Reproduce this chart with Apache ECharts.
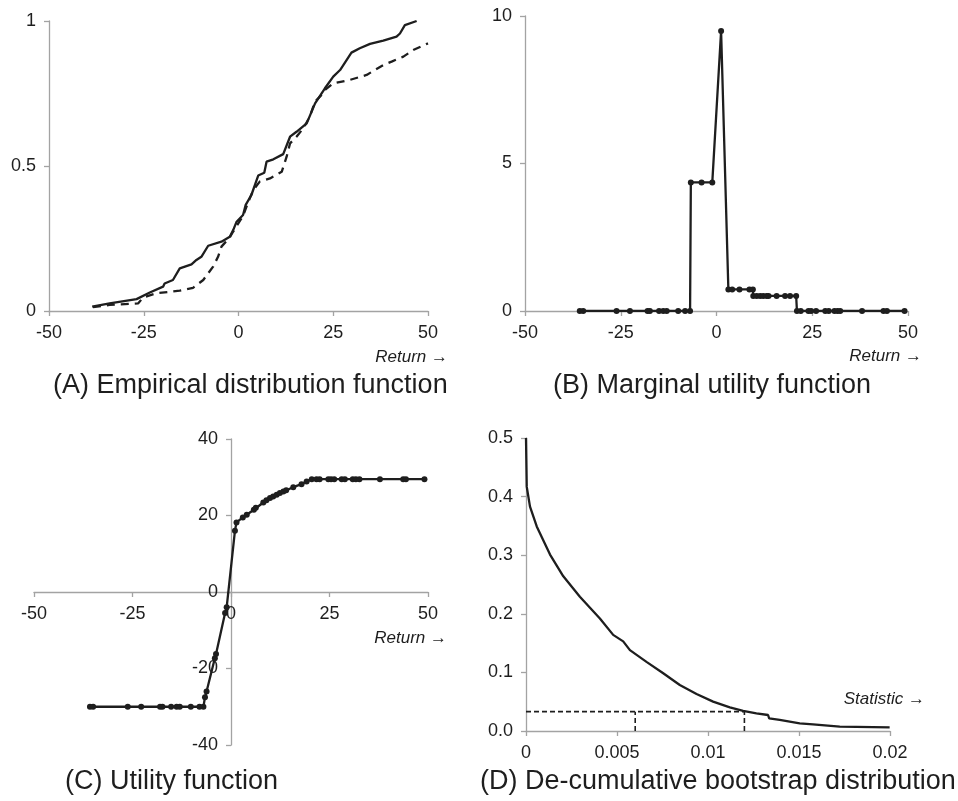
<!DOCTYPE html>
<html lang="en">
<head>
<meta charset="UTF-8">
<title>Utility functions</title>
<style>
  html, body { margin: 0; padding: 0; background: #fff; }
  #chart { width: 958px; height: 801px; }
</style>
</head>
<body>
<div id="chart"></div>
<script src="https://cdn.jsdelivr.net/npm/echarts@6/dist/echarts.min.js"></script>
<script>
// panel A: empirical distribution functions (return, cumulative share)
const edfSolid = [
  [-38.6, 0.015], [-34.0, 0.026], [-26.9, 0.041], [-23.4, 0.064], [-19.9, 0.084],
  [-19.5, 0.095], [-17.3, 0.107], [-15.5, 0.147], [-12.4, 0.161], [-11.1, 0.176],
  [-9.8, 0.187], [-8.0, 0.225], [-4.5, 0.239], [-2.3, 0.256], [-1.4, 0.279],
  [-0.5, 0.308], [1.2, 0.331], [1.9, 0.366], [3.4, 0.400], [5.2, 0.467],
  [6.8, 0.477], [7.4, 0.515], [9.2, 0.523], [11.8, 0.541], [13.6, 0.601],
  [15.3, 0.618], [18.0, 0.647], [20.2, 0.716], [22.8, 0.768], [25.0, 0.808],
  [26.8, 0.831], [29.8, 0.891], [32.0, 0.906], [34.7, 0.921], [38.2, 0.932],
  [41.7, 0.946], [42.6, 0.957], [43.9, 0.986], [47.0, 1.0]
];
const edfDashed = [
  [-38.4, 0.013], [-34.0, 0.021], [-26.5, 0.026], [-25.2, 0.046], [-21.7, 0.061],
  [-15.5, 0.070], [-12.0, 0.080], [-9.3, 0.107], [-6.7, 0.153], [-5.4, 0.187],
  [-4.5, 0.222], [-2.3, 0.254], [-1.4, 0.274], [1.2, 0.328], [2.6, 0.377],
  [3.9, 0.417], [5.6, 0.446], [8.3, 0.457], [11.4, 0.480], [12.7, 0.532],
  [13.6, 0.578], [15.3, 0.601], [17.1, 0.630], [18.8, 0.670], [20.2, 0.722],
  [21.9, 0.745], [22.8, 0.762], [25.0, 0.785], [29.4, 0.797], [33.8, 0.814],
  [38.2, 0.848], [40.4, 0.860], [43.5, 0.877], [46.1, 0.900], [50.0, 0.923]
];

// panel B: marginal utility
const marginal = [
  [-35.7, 0], [-34.8, 0], [-26.1, 0], [-22.6, 0], [-18.0, 0], [-17.4, 0],
  [-15.0, 0], [-13.9, 0], [-13.0, 0], [-10.0, 0], [-8.2, 0], [-6.9, 0],
  [-6.7, 4.36], [-3.9, 4.36], [-1.1, 4.36],
  [1.2, 9.49],
  [3.1, 0.73], [4.1, 0.73], [6.0, 0.73], [8.6, 0.73], [9.5, 0.73],
  [9.6, 0.51], [10.5, 0.51], [11.4, 0.51], [12.2, 0.51], [13.1, 0.51], [13.6, 0.51],
  [15.7, 0.51], [17.9, 0.51], [19.2, 0.51], [20.8, 0.51],
  [21.0, 0], [22.0, 0], [24.0, 0], [24.7, 0], [26.0, 0], [28.4, 0], [29.3, 0],
  [30.8, 0], [31.6, 0], [32.3, 0], [38.0, 0], [43.6, 0], [44.5, 0], [49.1, 0]
];

// panel C: utility
const utility = [
  [-35.8, -30], [-35.0, -30], [-26.2, -30], [-22.8, -30], [-18.0, -30], [-17.4, -30],
  [-15.2, -30], [-13.8, -30], [-13.0, -30], [-10.2, -30], [-8.0, -30], [-7.0, -30],
  [-6.6, -27.5], [-6.2, -26.0], [-4.1, -17.3], [-3.8, -16.2], [-1.5, -5.5], [-1.1, -4.0],
  [1.0, 16.0], [1.4, 18.2], [3.0, 19.5], [4.0, 20.2], [5.8, 21.5], [6.3, 22.0],
  [8.2, 23.4], [9.0, 24.0], [9.9, 24.6], [10.7, 25.0], [11.6, 25.4], [12.4, 25.9],
  [13.3, 26.3], [14.0, 26.6], [15.8, 27.4], [17.9, 28.2], [19.2, 28.9], [20.5, 29.5],
  [21.7, 29.5], [22.5, 29.5], [24.7, 29.5], [25.4, 29.5], [26.2, 29.5], [28.1, 29.5],
  [28.9, 29.5], [30.9, 29.5], [31.7, 29.5], [32.6, 29.5], [37.8, 29.5], [43.7, 29.5],
  [44.4, 29.5], [49.1, 29.5]
];

// panel D: de-cumulative bootstrap distribution
const bootstrap = [
  [0, 0.5], [0.00004, 0.417], [0.00022, 0.383], [0.00059, 0.349], [0.00132, 0.301],
  [0.00205, 0.264], [0.00296, 0.229], [0.00406, 0.192], [0.00479, 0.164],
  [0.00534, 0.153], [0.00571, 0.138], [0.00662, 0.118], [0.00754, 0.0985],
  [0.00845, 0.0786], [0.00937, 0.0632], [0.01028, 0.0501], [0.0112, 0.0404],
  [0.01193, 0.0342], [0.01266, 0.0302], [0.0133, 0.0273], [0.01336, 0.0216],
  [0.01394, 0.0188], [0.01504, 0.0131], [0.01577, 0.0114], [0.01724, 0.0074],
  [0.01998, 0.0063]
];
const criticalLevel = [[0, 0.033], [0.012, 0.033]];
const markerLow = [[0.006, 0], [0.006, 0.033]];
const markerHigh = [[0.012, 0], [0.012, 0.033]];

const panelTitles = ['(A) Empirical distribution function', '(B) Marginal utility function',
  '(C) Utility function', '(D) De-cumulative bootstrap distribution'];

const FONT = 'Liberation Sans, Arial, Helvetica, sans-serif';
const INK = '#1e1e1e';
const AXIS = '#a3a3a3';

function xAx(idx, min, max, interval, offset) {
  return {
    type: 'value', gridIndex: idx, min: min, max: max, interval: interval,
    offset: offset || 0,
    axisLine: { onZero: false, lineStyle: { color: AXIS, width: 1.3 } },
    axisTick: { show: true, length: 5, lineStyle: { color: AXIS, width: 1.3 } },
    axisLabel: { color: INK, fontSize: 18, fontFamily: FONT, margin: 13 },
    splitLine: { show: false }
  };
}
function yAx(idx, min, max, interval, offset, fmt) {
  return {
    type: 'value', gridIndex: idx, min: min, max: max, interval: interval,
    offset: offset || 0,
    axisLine: { show: true, onZero: false, lineStyle: { color: AXIS, width: 1.3 } },
    axisTick: { show: true, length: 5, lineStyle: { color: AXIS, width: 1.3 } },
    axisLabel: { color: INK, fontSize: 18, fontFamily: FONT, margin: 13, formatter: fmt },
    splitLine: { show: false }
  };
}
function line(idx, data, opts) {
  return Object.assign({
    type: 'line', xAxisIndex: idx, yAxisIndex: idx, data: data,
    showSymbol: false, symbol: 'none', silent: true, animation: false,
    lineStyle: { color: INK, width: 2.3 }
  }, opts || {});
}
function label(text, x, y, size, italic, align) {
  return {
    type: 'text', x: x, y: y, silent: true,
    style: {
      text: text, fill: INK,
      font: (italic ? 'italic ' : '') + size + 'px ' + FONT,
      align: align, textAlign: align,
      verticalAlign: 'middle', textVerticalAlign: 'middle'
    }
  };
}

const chart = echarts.init(document.getElementById('chart'), null, { renderer: 'canvas' });
chart.setOption({
  animation: false,
  backgroundColor: '#fff',
  grid: [
    { left: 49, top: 21, width: 379, height: 290 },
    { left: 525, top: 16, width: 383, height: 295 },
    { left: 34, top: 439, width: 394, height: 306 },
    { left: 526, top: 438, width: 364, height: 293 }
  ],
  xAxis: [
    xAx(0, -50, 50, 25),
    xAx(1, -50, 50, 25),
    xAx(2, -50, 50, 25, -153),   // crosses at y = 0
    xAx(3, 0, 0.02, 0.005)
  ],
  yAxis: [
    yAx(0, 0, 1, 0.5),
    yAx(1, 0, 10, 5),
    yAx(2, -40, 40, 20, -197),   // crosses at x = 0
    yAx(3, 0, 0.5, 0.1, 0, v => v.toFixed(1))
  ],
  series: [
    line(0, edfSolid),
    line(0, edfDashed, { lineStyle: { color: INK, width: 2.3, type: [8, 6] } }),
    line(1, marginal, { showSymbol: true, symbol: 'circle', symbolSize: 6,
      itemStyle: { color: INK } }),
    line(2, utility, { showSymbol: true, symbol: 'circle', symbolSize: 6,
      itemStyle: { color: INK } }),
    line(3, bootstrap),
    line(3, criticalLevel, { lineStyle: { color: INK, width: 1.6, type: [5, 3] } }),
    line(3, markerLow, { lineStyle: { color: INK, width: 1.6, type: [5, 3] } }),
    line(3, markerHigh, { lineStyle: { color: INK, width: 1.6, type: [5, 3] } })
  ],
  graphic: [
    label('Return \u2192', 448, 357, 17, true, 'right'),
    label('Return \u2192', 922, 356, 17, true, 'right'),
    label('Return \u2192', 447, 638, 17, true, 'right'),
    label('Statistic \u2192', 925, 699, 17, true, 'right'),
    label(panelTitles[0], 53, 386, 27, false, 'left'),
    label(panelTitles[1], 553, 386, 27, false, 'left'),
    label(panelTitles[2], 65, 782, 27, false, 'left'),
    label(panelTitles[3], 480, 782, 27, false, 'left')
  ]
});
</script>
</body>
</html>
